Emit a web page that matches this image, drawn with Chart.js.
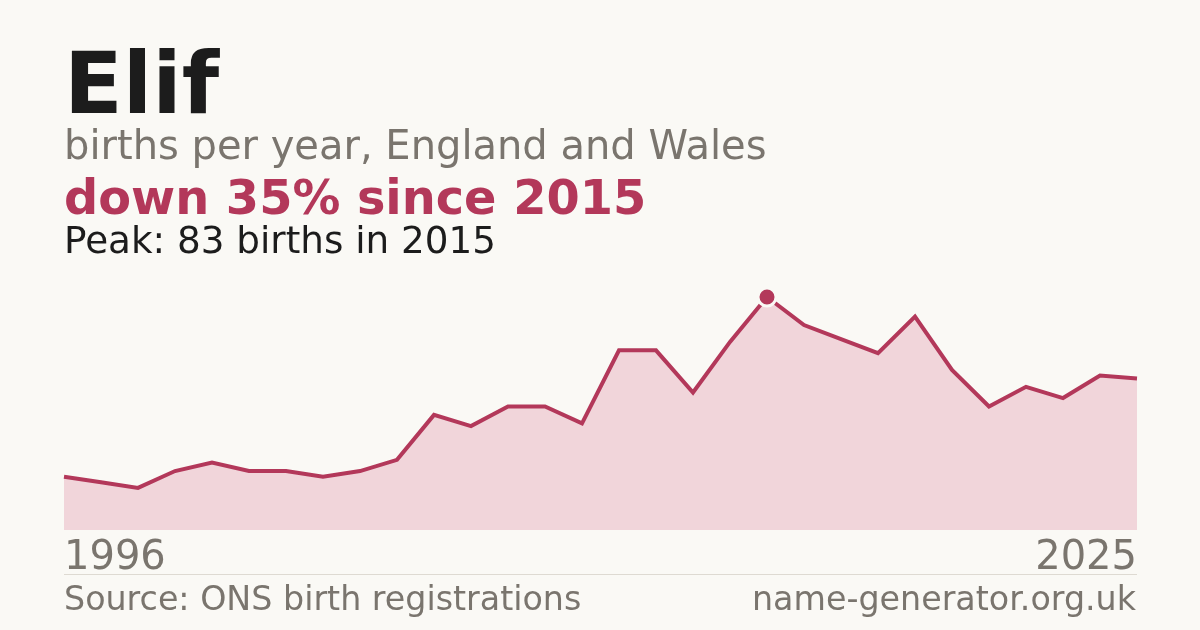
<!DOCTYPE html>
<html>
<head>
    <title>Elif - births per year</title>
    <script src="https://cdn.jsdelivr.net/npm/chart.js"></script>
    <style>
        body { margin: 0; background: #faf9f5; font-family: "DejaVu Sans", sans-serif; }
        #page { position: relative; width: 1200px; height: 630px; overflow: hidden; }
        .txt { position: absolute; left: 64px; line-height: 1; white-space: nowrap; }
        #title { top: 40px; font-size: 86px; font-weight: bold; color: #1c1c1c; }
        #subtitle { top: 125px; font-size: 40px; color: #7a756e; }
        #change { top: 174px; font-size: 47.8px; font-weight: bold; color: #b3385a; }
        #peak { top: 222px; font-size: 37.3px; color: #1c1c1c; }
        #rule { position: absolute; left: 64px; width: 1073px; top: 574px; border-top: 1px solid #dedad2; }
        .foot { top: 582px; font-size: 33.3px; color: #7a756e; }
        #site { left: auto; right: 64px; }
        #chartBox { position: absolute; left: 0; top: 0; width: 1200px; height: 580px; }
    </style>
</head>
<body>
<div id="page">
    <div id="chartBox"><canvas id="birthsChart"></canvas></div>
    <div class="txt" id="title">Elif</div>
    <div class="txt" id="subtitle">births per year, England and Wales</div>
    <div class="txt" id="change">down 35% since 2015</div>
    <div class="txt" id="peak">Peak: 83 births in 2015</div>
    <div id="rule"></div>
    <div class="txt foot" id="source">Source: ONS birth registrations</div>
    <div class="txt foot" id="site">name-generator.org.uk</div>
</div>

<script>
    const years = [1996, 1997, 1998, 1999, 2000, 2001, 2002, 2003, 2004, 2005,
                   2006, 2007, 2008, 2009, 2010, 2011, 2012, 2013, 2014, 2015,
                   2016, 2017, 2018, 2019, 2020, 2021, 2022, 2023, 2024, 2025];
    const births = [19, 17, 15, 21, 24, 21, 21, 19, 21, 25,
                    41, 37, 44, 44, 38, 64, 64, 49, 67, 83,
                    73, 68, 63, 76, 57, 44, 51, 47, 55, 54];
    const peakYear = 2015;

    const red = '#b3385a';
    const peakIdx = years.indexOf(peakYear);

    const ctx = document.getElementById('birthsChart').getContext('2d');
    new Chart(ctx, {
        type: 'line',
        data: {
            labels: years,
            datasets: [{
                data: births,
                borderColor: red,
                borderWidth: 4,
                backgroundColor: '#f1d5da',
                fill: 'origin',
                tension: 0,
                pointRadius: births.map((v, i) => i === peakIdx ? 9 : 0),
                pointBackgroundColor: red,
                pointBorderColor: '#faf9f5',
                pointBorderWidth: 3,
                clip: false
            }]
        },
        options: {
            responsive: true,
            maintainAspectRatio: false,
            animation: false,
            layout: { padding: { left: 64, right: 63, top: 297, bottom: 0 } },
            plugins: { legend: { display: false }, tooltip: { enabled: false } },
            scales: {
                x: {
                    grid: { display: false },
                    border: { display: false },
                    ticks: {
                        autoSkip: false,
                        maxRotation: 0,
                        align: 'inner',
                        padding: -3,
                        color: '#7a756e',
                        font: { family: 'DejaVu Sans', size: 40 },
                        callback: function (val, i) {
                            return (i === 0 || i === years.length - 1) ? years[i] : '';
                        }
                    }
                },
                y: {
                    display: false,
                    min: 0,
                    max: 83
                }
            }
        }
    });
</script>
</body>
</html>
